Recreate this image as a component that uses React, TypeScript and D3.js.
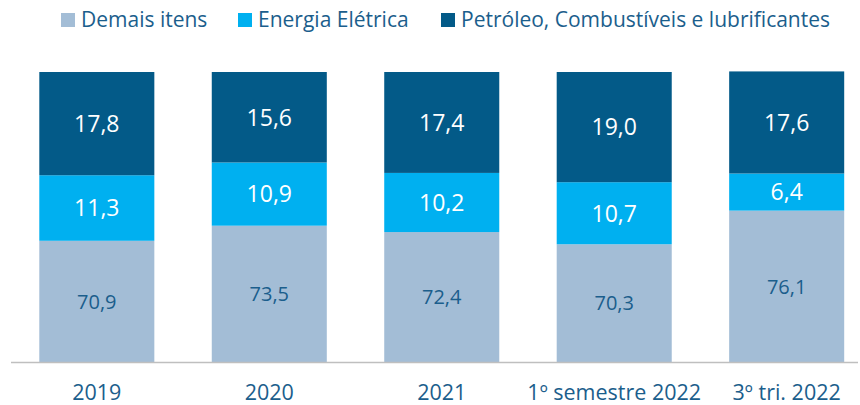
import React from "react";
import * as d3 from "d3";

const categories = ["2019", "2020", "2021", "1º semestre 2022", "3º tri. 2022"];
const seriesNames = ["Demais itens", "Energia Elétrica", "Petróleo, Combustíveis e lubrificantes"];
const demais = [70.9, 73.5, 72.4, 70.3, 76.1];
const energia = [11.3, 10.9, 10.2, 10.7, 6.4];
const petroleo = [17.8, 15.6, 17.4, 19.0, 17.6];
const colors = ["#A3BDD6", "#00B0F0", "#035A88"];
const labelColors = ["#1B5E8C", "#FFFFFF", "#FFFFFF"];

const W = 860;
const H = 405;
const FONT = "'Open Sans', Lato, sans-serif";

export default function App() {
  const x = d3.scaleBand<string>().domain(categories).range([10.5, 873]).paddingInner(0.333).paddingOuter(0.167);
  const y = d3.scaleLinear().domain([50, 100]).range([362, 72]);
  const rows = categories.map((c, i) => ({ cat: c, d: demais[i], e: energia[i], p: petroleo[i] }));
  const stack = d3.stack<any>().keys(["d", "e", "p"])(rows);
  const legendX = [61, 238, 441];

  return (
    <svg width={W} height={H} style={{ position: "absolute", left: 0, top: 0 }}>
      <rect width={W} height={H} fill="#fff" />
      {stack.map((layer, li) =>
        layer.map((seg, i) => {
          const y0 = y(Math.max(seg[0], 50));
          const y1 = y(seg[1]);
          const xx = x(categories[i])!;
          const val = [demais, energia, petroleo][li][i];
          return (
            <g key={li + "-" + i}>
              <rect x={xx} y={y1} width={x.bandwidth()} height={y0 - y1} fill={colors[li]} />
              <text
                x={xx + x.bandwidth() / 2}
                y={(y0 + y1) / 2}
                dy="0.36em"
                textAnchor="middle"
                fill={labelColors[li]}
                fontFamily={FONT}
                fontSize={li === 0 ? 20 : 23}
              >
                {val.toFixed(1).replace(".", ",")}
              </text>
            </g>
          );
        })
      )}
      <line x1={11} x2={858} y1={362.5} y2={362.5} stroke="#BFBFBF" strokeWidth={1.5} />
      {categories.map((c) => (
        <text key={c} x={x(c)! + x.bandwidth() / 2} y={400} textAnchor="middle" fill="#1B5E8C" fontFamily={FONT} fontSize={21.5}>
          {c}
        </text>
      ))}
      {seriesNames.map((s, i) => (
        <g key={s}>
          <rect x={legendX[i]} y={13} width={14} height={14} fill={colors[i]} />
          <text x={legendX[i] + 20} y={27} fill="#1B5E8C" fontFamily={FONT} fontSize={21}>
            {s}
          </text>
        </g>
      ))}
    </svg>
  );
}
